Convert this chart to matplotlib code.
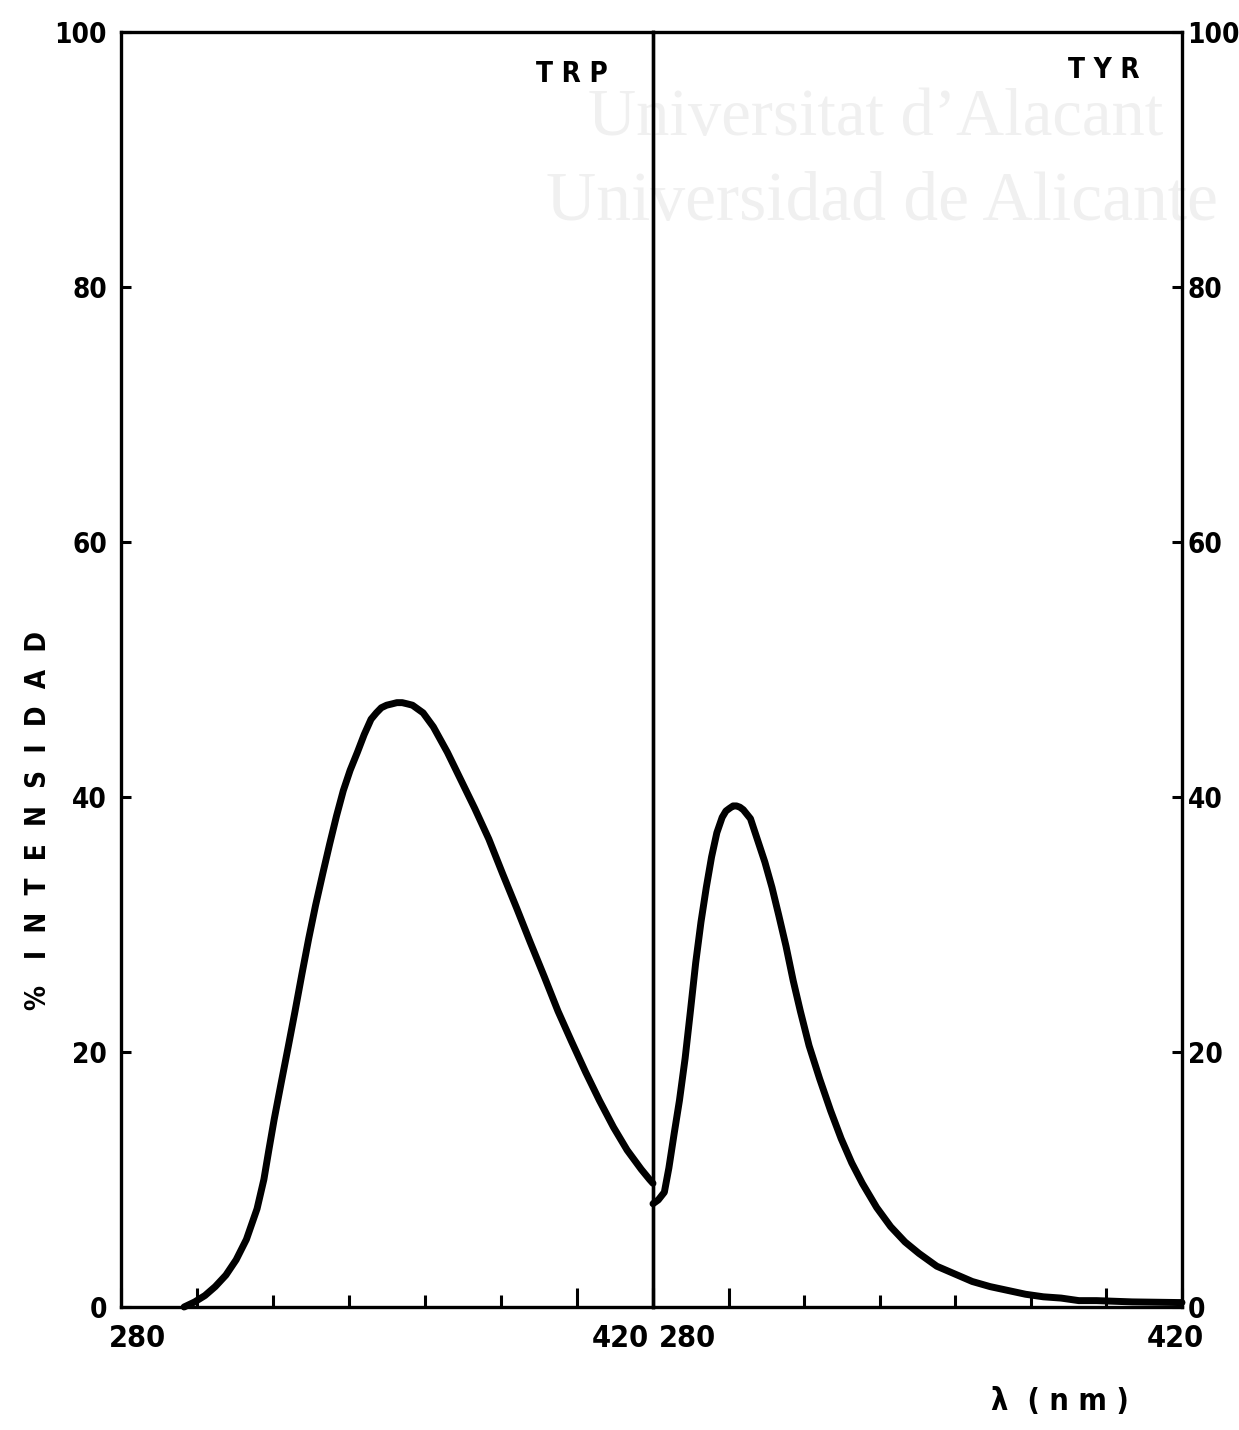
import numpy as np
import matplotlib.pyplot as plt
from matplotlib.transforms import ScaledTranslation
from matplotlib import font_manager

# emission spectra (nm, % intensity)
trp_nm = [296.6, 299.4, 302.1, 304.8, 307.6, 310.3, 313.0, 315.8, 317.6, 318.9,
          320.3, 322.1, 324.0, 325.8, 327.6, 329.4, 331.2, 333.1, 334.9, 336.7,
          338.5, 340.3, 342.2, 344.0, 345.8, 347.2, 348.5, 349.9, 351.3, 352.6,
          354.0, 355.4, 356.7, 358.1, 359.5, 362.2, 365.9, 369.5, 373.1, 376.8,
          380.4, 384.1, 387.7, 391.4, 395.0, 398.6, 402.3, 405.9, 409.6, 413.2,
          416.9, 419.1, 420.0]
trp_int = [0.0, 0.4, 0.9, 1.6, 2.5, 3.7, 5.3, 7.7, 10.0, 12.3,
           14.7, 17.5, 20.4, 23.2, 26.1, 28.9, 31.5, 34.0, 36.3, 38.5,
           40.5, 42.1, 43.5, 44.9, 46.1, 46.6, 47.0, 47.2, 47.3, 47.4,
           47.4, 47.3, 47.2, 46.9, 46.6, 45.5, 43.5, 41.3, 39.1, 36.7,
           34.0, 31.3, 28.6, 25.9, 23.2, 20.8, 18.4, 16.2, 14.1, 12.3,
           10.8, 10.0, 9.7]

tyr_nm = [280.0, 281.4, 283.0, 284.2, 285.6, 287.0, 288.5, 289.9, 291.3, 292.7,
          294.1, 295.5, 296.9, 298.3, 299.3, 300.2, 301.2, 302.1, 303.0, 303.9,
          305.8, 307.7, 309.6, 311.5, 313.3, 315.2, 317.1, 319.0, 321.3, 324.1,
          327.0, 329.8, 332.6, 335.4, 339.2, 342.9, 346.7, 350.4, 355.1, 359.8,
          364.5, 369.2, 373.9, 378.6, 383.3, 388.0, 392.7, 397.4, 406.8, 419.0,
          420.0]
tyr_int = [8.1, 8.4, 9.0, 10.9, 13.6, 16.2, 19.5, 23.2, 27.0, 30.2,
           32.9, 35.3, 37.2, 38.4, 38.9, 39.1, 39.3, 39.3, 39.2, 39.0,
           38.3, 36.6, 34.9, 32.9, 30.7, 28.3, 25.6, 23.2, 20.5, 17.9,
           15.4, 13.2, 11.3, 9.7, 7.8, 6.3, 5.1, 4.2, 3.2, 2.6,
           2.0, 1.6, 1.3, 1.0, 0.8, 0.7, 0.5, 0.5, 0.4, 0.35,
           0.35]

x_major = [280, 300, 400, 420]
x_labels = ['280', '', '', '420']
x_minor = [320, 340, 360, 380]
y_ticks = [0, 20, 40, 60, 80, 100]

W, H = 1239, 1430
fig = plt.figure(figsize=(W / 100, H / 100), dpi=100)

# condensed bold face for the lettering, like the original stencil
fp = font_manager.FontProperties(family='DejaVu Sans', weight='bold', stretch='condensed', size=22)
fp_y = fp.copy()
fp_y.set_size(20)
fp_lab = fp.copy()
fp_lab.set_size(20)

left, mid, right = 121, 653, 1182
top, bottom = 32, 1307
ax1 = fig.add_axes([left / W, 1 - bottom / H, (mid - left) / W, (bottom - top) / H], zorder=2)
ax2 = fig.add_axes([mid / W, 1 - bottom / H, (right - mid) / W, (bottom - top) / H], zorder=2)

# faint watermark of the scan
for txt, xc, yc, fs in [("Universitat d\u2019Alacant", 876, 119, 48), ("Universidad de Alicante", 882, 203, 50)]:
    fig.text(xc / W, 1 - yc / H, txt, ha='center', va='center', fontsize=fs,
             family='Liberation Serif', color='#f0f0f0', zorder=0)

ax1.plot(trp_nm, trp_int, color='black', lw=5, solid_joinstyle='round', solid_capstyle='round', clip_on=False)
ax2.plot(tyr_nm, tyr_int, color='black', lw=5, solid_joinstyle='round', solid_capstyle='round', clip_on=False)

for ax in (ax1, ax2):
    ax.set_xlim(280, 420)
    ax.set_ylim(0, 100)
    ax.patch.set_alpha(0)
    for s in ax.spines.values():
        s.set_linewidth(2.4)
    ax.set_xticks(x_major)
    ax.set_xticklabels(x_labels)
    ax.set_xticks(x_minor, minor=True)
    ax.tick_params(axis='x', which='major', direction='in', length=14, width=2.2, pad=12)
    ax.tick_params(axis='x', which='minor', direction='in', length=9, width=2.2)
    ax.set_yticks(y_ticks)

ax1.tick_params(axis='y', direction='in', length=7, width=2.2, pad=10, left=True, right=False)
ax2.yaxis.tick_right()
ax2.tick_params(axis='y', direction='in', length=7, width=2.2, pad=4, left=False, right=True,
                labelleft=False, labelright=True)

for ax in (ax1, ax2):
    for t in ax.xaxis.get_major_ticks():
        t.label1.set_fontproperties(fp)
    for t in ax.yaxis.get_major_ticks():
        t.label1.set_fontproperties(fp_y)
        t.label2.set_fontproperties(fp_y)

# shift the x labels inward as in the original
shifts = {(0, 0): 16, (0, 3): -33, (1, 0): 34, (1, 3): -7}
for i, ax in enumerate((ax1, ax2)):
    labs = ax.get_xticklabels()
    for j in (0, 3):
        dx = shifts[(i, j)]
        labs[j].set_transform(labs[j].get_transform() + ScaledTranslation(dx / 100, 0, fig.dpi_scale_trans))

ax1.text(0.915, 0.967, 'T R P', transform=ax1.transAxes, ha='right', va='center', fontproperties=fp_lab)
ax2.text(0.92, 0.970, 'T Y R', transform=ax2.transAxes, ha='right', va='center', fontproperties=fp_lab)

fig.text(38 / W, 1 - 820 / H, '%   I  N  T  E  N  S  I  D  A  D', rotation=90, ha='center', va='center',
         fontproperties=fp_lab)
fig.text(1060 / W, 1 - 1402 / H, '\u03bb  ( n m )', ha='center', va='center', fontproperties=fp)

fig.savefig('out.png', dpi=100, facecolor='white')
